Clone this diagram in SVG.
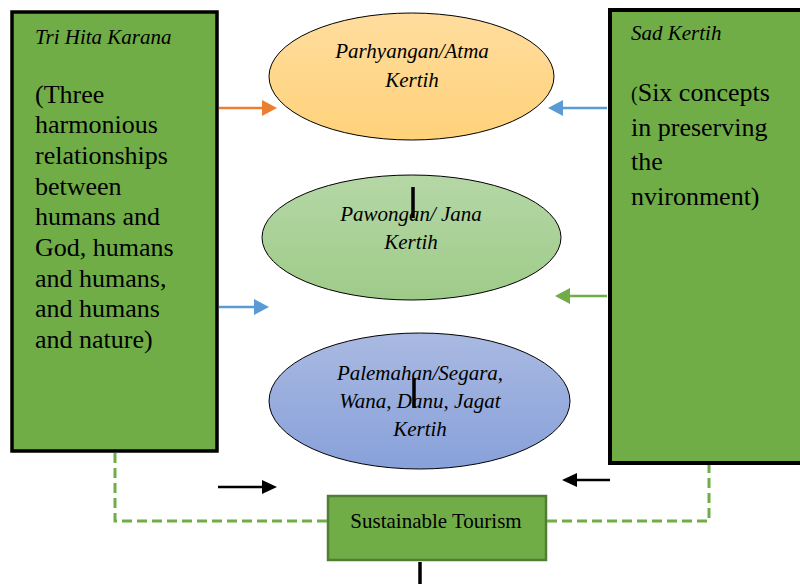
<svg xmlns="http://www.w3.org/2000/svg" width="800" height="584" viewBox="0 0 800 584">
<style>
.box{fill:#70AD47;stroke:#000;stroke-width:3.5}
.ell{stroke:#000;stroke-width:1}
.t{font-family:"Liberation Serif","Times New Roman",serif;fill:#000}
.it{font-style:italic;font-size:21px}
.body{font-size:26px}
.dash{fill:none;stroke:#70AD47;stroke-width:3;stroke-dasharray:10 5}
.bar{stroke:#000;stroke-width:3.5}
</style>
<defs>
<linearGradient id="gO" x1="0" y1="0" x2="0" y2="1"><stop offset="0" stop-color="#FFDD9E"/><stop offset="1" stop-color="#FFD27A"/></linearGradient>
<linearGradient id="gG" x1="0" y1="0" x2="0" y2="1"><stop offset="0" stop-color="#B5D7A6"/><stop offset="1" stop-color="#9FCB89"/></linearGradient>
<linearGradient id="gB" x1="0" y1="0" x2="0" y2="1"><stop offset="0" stop-color="#A9B9E1"/><stop offset="1" stop-color="#88A1DA"/></linearGradient>
</defs>
<rect width="800" height="584" fill="#fff"/>

<g id="tri-hita-karana">
<rect class="box" x="12" y="12" width="205" height="439"/>
<text class="t it" x="35" y="44">Tri Hita Karana</text>
<text class="t body" x="35">
<tspan x="35" y="103">(Three</tspan>
<tspan x="35" y="133">harmonious</tspan>
<tspan x="35" y="164">relationships</tspan>
<tspan x="35" y="195">between</tspan>
<tspan x="35" y="225">humans and</tspan>
<tspan x="35" y="256">God, humans</tspan>
<tspan x="35" y="287">and humans,</tspan>
<tspan x="35" y="317">and humans</tspan>
<tspan x="35" y="348">and nature)</tspan>
</text>
</g>

<g id="sad-kertih">
<rect class="box" x="610" y="10" width="200" height="453" style="stroke-width:4"/>
<text class="t it" x="631" y="40">Sad Kertih</text>
<text class="t body">
<tspan x="631" y="101"><tspan style="font-size:20px">(</tspan>Six concepts</tspan>
<tspan x="631" y="136">in preserving</tspan>
<tspan x="631" y="170">the</tspan>
<tspan x="631" y="205">nvironment)</tspan>
</text>
</g>

<g id="parhyangan">
<ellipse class="ell" cx="411.5" cy="76.5" rx="142.5" ry="63.5" fill="url(#gO)"/>
<text class="t it" text-anchor="middle"><tspan x="412" y="58">Parhyangan/Atma</tspan><tspan x="412" y="87">Kertih</tspan></text>
</g>

<g id="pawongan">
<ellipse class="ell" cx="411.5" cy="237.5" rx="149.5" ry="62.5" fill="url(#gG)"/>
<text class="t it" text-anchor="middle"><tspan x="411" y="221">Pawongan/ Jana</tspan><tspan x="411" y="249">Kertih</tspan></text>
</g>

<g id="palemahan">
<ellipse class="ell" cx="419.5" cy="401" rx="150.5" ry="68" fill="url(#gB)"/>
<text class="t it" text-anchor="middle"><tspan x="420" y="380">Palemahan/Segara,</tspan><tspan x="420" y="408">Wana, Danu, Jagat</tspan><tspan x="420" y="436">Kertih</tspan></text>
</g>

<g id="sustainable-tourism">
<rect x="328" y="496" width="218" height="64" fill="#70AD47" stroke="#507E32" stroke-width="2.5"/>
<text class="t" x="436" y="528" text-anchor="middle" style="font-size:21px">Sustainable Tourism</text>
</g>

<g id="connectors">
<path class="dash" d="M115,453 V521 H327"/>
<path class="dash" d="M547,521 H709 V465"/>
<line x1="219" y1="108" x2="263" y2="108" stroke="#ED7D31" stroke-width="2.5"/>
<path d="M262,100 L277,108 L262,116 Z" fill="#ED7D31"/>
<line x1="607" y1="108" x2="562" y2="108" stroke="#5B9BD5" stroke-width="2.5"/>
<path d="M563,100 L548,108 L563,116 Z" fill="#5B9BD5"/>
<line x1="219" y1="307" x2="255" y2="307" stroke="#5B9BD5" stroke-width="2.5"/>
<path d="M254,299 L269,307 L254,315 Z" fill="#5B9BD5"/>
<line x1="607" y1="296" x2="569" y2="296" stroke="#70AD47" stroke-width="2.5"/>
<path d="M570,288 L555,296 L570,304 Z" fill="#70AD47"/>
<line x1="218" y1="487" x2="263" y2="487" stroke="#000" stroke-width="2.5"/>
<path d="M262,480 L277,487 L262,494 Z" fill="#000"/>
<line x1="610" y1="480" x2="576" y2="480" stroke="#000" stroke-width="2.5"/>
<path d="M577,473 L562,480 L577,487 Z" fill="#000"/>
<line class="bar" x1="413" y1="187" x2="413" y2="218"/>
<line class="bar" x1="414" y1="378" x2="414" y2="408"/>
<line class="bar" x1="420" y1="562" x2="420" y2="584"/>
</g>
</svg>
